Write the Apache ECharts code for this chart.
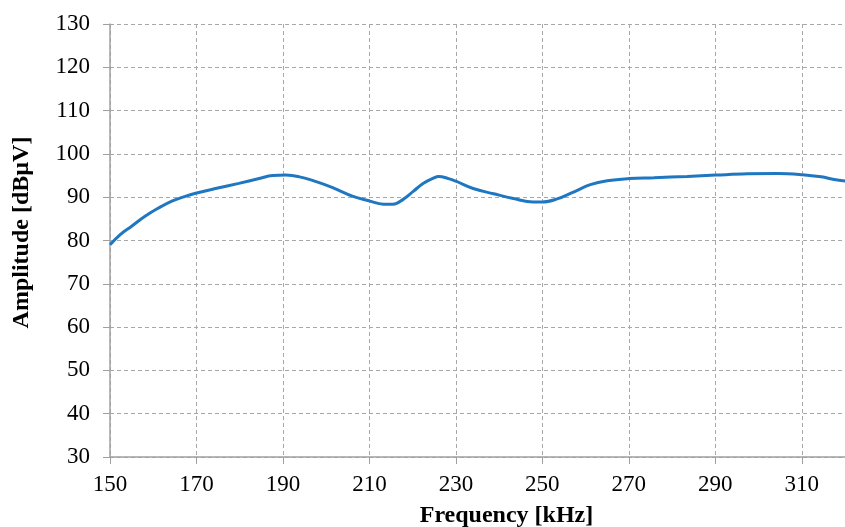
<!DOCTYPE html>
<html>
<head>
<meta charset="utf-8">
<script src="https://cdn.jsdelivr.net/npm/echarts@6/dist/echarts.min.js"></script>
<style>
    html, body { margin: 0; padding: 0; background: #fff; }
    #chart { width: 845px; height: 527px; }
</style>
</head>
<body>
<div id="chart"></div>
<script>
// 频率 (kHz) 与幅值 (dBµV)
var freq = [150, 152.3, 155, 158.1, 161.2, 164.3, 167.4, 169.8, 174.4, 179.8, 184.5, 187.6, 190.7, 193.8,
    197.7, 201.5, 206.2, 210.1, 213.2, 215.5, 217.8, 220.2, 222.5, 224.8, 226, 228.3, 230, 234, 238.7,
    243.3, 247.9, 250, 253.4, 257.2, 261.1, 265, 270.1, 275.8, 283.5, 290.1, 297.4, 304.4, 310.2, 314.5,
    317.5, 320.3];
var amplitude = [79.0, 81.3, 83.3, 85.6, 87.5, 89.1, 90.2, 90.9, 92.0, 93.2, 94.3, 95.0, 95.1, 94.7,
    93.6, 92.2, 90.2, 89.1, 88.4, 88.4, 89.5, 91.4, 93.2, 94.4, 94.8, 94.3, 93.7, 92.0, 90.8,
    89.7, 88.9, 88.9, 89.6, 91.2, 92.9, 93.8, 94.3, 94.5, 94.8, 95.1, 95.4, 95.5, 95.2, 94.7,
    94.1, 93.7];
var xTitle = 'Frequency [kHz]';
var yTitle = 'Amplitude [dBµV]';

window.onload = function () {
    var myChart = echarts.init(document.getElementById('chart'));
    var points = [];
    for (var i = 0; i < freq.length; i++) {
        points.push([freq[i], amplitude[i]]);
    }
    var font = '"Liberation Serif", "Times New Roman", serif';
    var option = {
        animation: false,
        backgroundColor: '#fff',
        grid: {
            left: 110,
            right: 0,
            top: 24,
            bottom: 70,
            outerBoundsMode: 'none'
        },
        xAxis: {
            type: 'value',
            min: 150,
            max: 320,
            interval: 20,
            name: xTitle,
            nameLocation: 'middle',
            nameGap: 47,
            // 标题略偏右
            nameTextStyle: { fontFamily: font, fontSize: 24, fontWeight: 'bold', color: '#000', padding: [0, 0, 0, 58] },
            axisLine: { lineStyle: { color: '#a0a0a0', width: 1.5 } },
            axisTick: { show: true, length: 7, lineStyle: { color: '#a0a0a0' } },
            axisLabel: { fontFamily: font, fontSize: 23, color: '#000', margin: 16, showMaxLabel: false },
            splitLine: { show: true, lineStyle: { color: '#a8a8a8', type: [4, 3] } }
        },
        yAxis: {
            type: 'value',
            min: 30,
            max: 130,
            interval: 10,
            name: yTitle,
            nameLocation: 'middle',
            nameGap: 76,
            nameTextStyle: { fontFamily: font, fontSize: 24, fontWeight: 'bold', color: '#000', padding: [0, 0, 0, 16] },
            axisLine: { show: true, lineStyle: { color: '#a0a0a0', width: 1.5 } },
            axisTick: { show: true, length: 7, lineStyle: { color: '#a0a0a0' } },
            axisLabel: { fontFamily: font, fontSize: 23, color: '#000', margin: 20 },
            splitLine: { show: true, lineStyle: { color: '#a8a8a8', type: [4, 3] } }
        },
        series: [{
            name: 'Amplitude',
            type: 'line',
            data: points,
            smooth: 0.4,
            showSymbol: false,
            lineStyle: { color: '#1f77c1', width: 3 },
            clip: true
        }]
    };
    myChart.setOption(option);
};
</script>
</body>
</html>
